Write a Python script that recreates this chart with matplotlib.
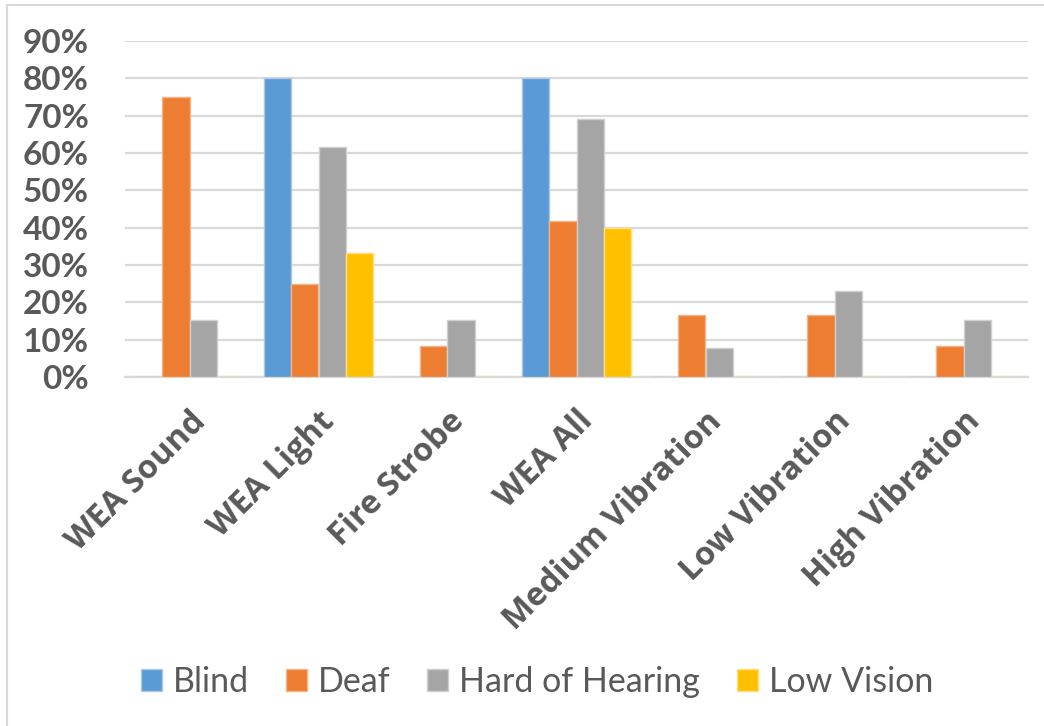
import numpy as np
import matplotlib
matplotlib.use("Agg")
import matplotlib.pyplot as plt
from matplotlib.lines import Line2D

categories = ["WEA Sound", "WEA Light", "Fire Strobe", "WEA All",
              "Medium Vibration", "Low Vibration", "High Vibration"]
series_names = ["Blind", "Deaf", "Hard of Hearing", "Low Vision"]
blind = [0.0, 0.80, 0.0, 0.80, 0.0, 0.0, 0.0]
deaf = [0.75, 0.25, 0.083, 0.417, 0.167, 0.167, 0.083]
hard_of_hearing = [0.154, 0.615, 0.154, 0.692, 0.077, 0.231, 0.154]
low_vision = [0.0, 0.333, 0.0, 0.40, 0.0, 0.0, 0.0]
y_ticks = [0.0, 0.1, 0.2, 0.3, 0.4, 0.5, 0.6, 0.7, 0.8, 0.9]

colors = ["#5B9BD5", "#ED7D31", "#A5A5A5", "#FFC000"]
edge_colors = ["#A9C8E8", "#F4B48A", "#CFCFCF", "#FFDF80"]
text_color = "#595959"
grid_color = "#D9D9D9"

W, H = 1044, 726
fig = plt.figure(figsize=(W / 100, H / 100), dpi=100)
fig.patch.set_facecolor("white")

# chart frame (only its left and top edges fall inside the canvas)
fig.add_artist(Line2D([6.5 / W, 6.5 / W], [0, 1 - 5 / H], transform=fig.transFigure,
                      color=grid_color, lw=1.5))
fig.add_artist(Line2D([6.5 / W, 1], [1 - 5 / H, 1 - 5 / H], transform=fig.transFigure,
                      color=grid_color, lw=1.5))

left, right = 125 / W, 1028 / W
bottom, top = 1 - 377 / H, 1 - 41 / H
ax = fig.add_axes([left, bottom, right - left, top - bottom])

x = np.arange(len(categories))
n = len(series_names)
group_w = 0.845
bw = group_w / n
data = [blind, deaf, hard_of_hearing, low_vision]
for i, (vals, c, ec, name) in enumerate(zip(data, colors, edge_colors, series_names)):
    offs = -group_w / 2 + bw * (i + 0.5)
    ax.bar(x + offs, vals, width=bw, color=c, edgecolor=ec, linewidth=1.0,
           label=name, zorder=3)

ax.set_xlim(-0.5, len(categories) - 0.5)
ax.set_ylim(0, 0.9)
ax.set_yticks(y_ticks)
ax.set_yticklabels([f"{int(round(t * 100))}%" for t in y_ticks],
                   fontfamily="Lato", fontweight="bold", fontsize=24, color=text_color)
ax.tick_params(axis="y", length=0, pad=26)
ax.yaxis.grid(True, color=grid_color, linewidth=1.6, zorder=0)
ax.set_axisbelow(True)
for s in ["left", "right", "top"]:
    ax.spines[s].set_visible(False)
ax.spines["bottom"].set_color(grid_color)
ax.spines["bottom"].set_linewidth(1.6)
ax.spines["bottom"].set_zorder(2)

ax.set_xticks(x)
ax.set_xticklabels(categories, rotation=45, ha="right", rotation_mode="anchor",
                   fontfamily="Open Sans", fontweight="bold", fontsize=23.5,
                   color=text_color)
ax.tick_params(axis="x", length=0, pad=20)

leg = fig.legend(loc="center", bbox_to_anchor=(537 / W, 1 - 682 / H), ncol=4,
                 frameon=False, prop={"family": "Lato", "size": 24.5},
                 handlelength=0.62, handleheight=0.62, handletextpad=0.33,
                 columnspacing=1.07)
for t in leg.get_texts():
    t.set_color(text_color)

fig.savefig("out.png", dpi=100, facecolor="white")
